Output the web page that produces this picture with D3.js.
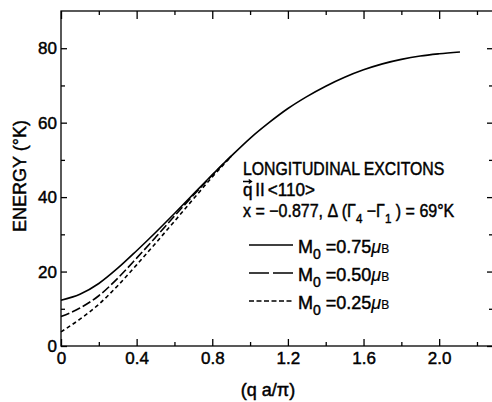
<!DOCTYPE html>
<html>
<head>
<meta charset="utf-8">
<script src="https://cdn.jsdelivr.net/npm/d3@7"></script>
<style>
  body { margin: 0; background: #fff; }
  svg text { font-family: "Liberation Sans", Arial, sans-serif; fill: #000; stroke: #000; stroke-width: 0.45px; }
</style>
</head>
<body>
<div id="container"></div>
<script>
// wave vector (q a / pi) and excitation energy (deg K)
const qSolid = [0, 0.1, 0.2, 0.3, 0.4, 0.5, 0.6, 0.7, 0.8, 0.9, 1.0, 1.1, 1.2, 1.3, 1.4, 1.5, 1.6, 1.7, 1.8, 1.9, 2.0, 2.11];
const eSolid = [12.3, 13.9, 16.8, 20.9, 25.6, 30.5, 35.6, 40.8, 46.0, 51.0, 55.8, 60.0, 63.8, 67.0, 69.8, 72.2, 74.2, 75.8, 77.0, 77.9, 78.5, 79.0];
const qDash = [0, 0.1, 0.2, 0.3, 0.4, 0.5, 0.6, 0.7, 0.8, 0.9];
const eDash = [7.9, 10.2, 13.5, 18.2, 23.6, 29.2, 34.9, 40.5, 45.9, 51.0];
const qShort = [0, 0.1, 0.2, 0.3, 0.4, 0.5, 0.6, 0.7, 0.8, 0.9];
const eShort = [3.8, 7.2, 11.2, 16.2, 21.8, 27.6, 33.5, 39.5, 45.4, 50.9];

const xMajor = [0, 0.4, 0.8, 1.2, 1.6, 2.0];
const xMinor = [0.2, 0.6, 1.0, 1.4, 1.8, 2.2];
const yMajor = [0, 20, 40, 60, 80];
const yMinor = [10, 30, 50, 70];

const legendLabels = ["0.75", "0.50", "0.25"];

const width = 492, height = 402;
const m = { left: 61, top: 11, bottom: 346, right: 494 };

const svg = d3.select("#container")
  .append("svg")
  .attr("width", width)
  .attr("height", height);

const x = d3.scaleLinear().domain([0, 2.29]).range([m.left, m.right]);
const y = d3.scaleLinear().domain([0, 90]).range([m.bottom, m.top]);

// frame
svg.append("rect")
  .attr("x", m.left).attr("y", m.top)
  .attr("width", m.right - m.left).attr("height", m.bottom - m.top)
  .attr("fill", "none").attr("stroke", "#000").attr("stroke-width", 1.3);

function styleAxis(g) {
  g.select(".domain").remove();
  g.selectAll("line").attr("stroke", "#000").attr("stroke-width", 1.3);
  g.selectAll("text").style("font-size", "17px");
}

const fmtX = d => d === 0 ? "0" : d.toFixed(1);

// bottom axis, ticks pointing in
svg.append("g").attr("transform", `translate(0,${m.bottom})`)
  .call(d3.axisBottom(x).tickValues(xMajor).tickSize(-7).tickPadding(6).tickFormat(fmtX))
  .call(styleAxis);
svg.append("g").attr("transform", `translate(0,${m.bottom})`)
  .call(d3.axisBottom(x).tickValues(xMinor).tickSize(-4).tickFormat(""))
  .call(styleAxis);
// top axis
svg.append("g").attr("transform", `translate(0,${m.top})`)
  .call(d3.axisTop(x).tickValues(xMajor).tickSize(-8).tickFormat(""))
  .call(styleAxis);
svg.append("g").attr("transform", `translate(0,${m.top})`)
  .call(d3.axisTop(x).tickValues(xMinor).tickSize(-4).tickFormat(""))
  .call(styleAxis);
// left axis
svg.append("g").attr("transform", `translate(${m.left},0)`)
  .call(d3.axisLeft(y).tickValues(yMajor).tickSize(-6).tickPadding(4))
  .call(styleAxis);
svg.append("g").attr("transform", `translate(${m.left},0)`)
  .call(d3.axisLeft(y).tickValues(yMinor).tickSize(-4).tickFormat(""))
  .call(styleAxis);
// right axis
svg.append("g").attr("transform", `translate(${m.right},0)`)
  .call(d3.axisRight(y).tickValues(yMajor).tickSize(-7).tickFormat(""))
  .call(styleAxis);
svg.append("g").attr("transform", `translate(${m.right},0)`)
  .call(d3.axisRight(y).tickValues(yMinor).tickSize(-5).tickFormat(""))
  .call(styleAxis);

// axis titles
svg.append("text")
  .attr("x", 268).attr("y", 396)
  .attr("text-anchor", "middle")
  .style("font-size", "18px")
  .text("(q a/\u03C0)");

svg.append("text")
  .attr("transform", "translate(26,176) rotate(-90)")
  .attr("text-anchor", "middle")
  .style("font-size", "18px")
  .text("ENERGY (\u00B0K)");

// curves
const line = d3.line()
  .curve(d3.curveMonotoneX)
  .x(d => x(d.q))
  .y(d => y(d.e));

const series = [
  { q: qSolid, e: eSolid, dash: null, legendDash: null },
  { q: qDash, e: eDash, dash: "9,3", legendDash: "20,4" },
  { q: qShort, e: eShort, dash: "4,3", legendDash: "5,2.5" }
];

series.forEach(s => {
  const pts = s.q.map((q, i) => ({ q, e: s.e[i] }));
  svg.append("path")
    .datum(pts)
    .attr("fill", "none")
    .attr("stroke", "#000")
    .attr("stroke-width", 1.6)
    .attr("stroke-dasharray", s.dash)
    .attr("d", line);
});

// annotation (condensed lettering)
const ann = svg.append("g").style("font-size", "18px");
ann.append("g").attr("transform", "translate(243,175) scale(0.88,1)")
  .append("text").text("LONGITUDINAL EXCITONS");

const g2 = ann.append("g").attr("transform", "translate(243,196) scale(0.95,1)");
const t2 = g2.append("text");
t2.append("tspan").text("q");
t2.append("tspan").attr("dx", 3).text("II");
t2.append("tspan").attr("dx", 3).text("<110>");
g2.append("path")
  .attr("d", "M0,-14.5 H9 M6,-16.5 L9,-14.5 L6,-12.5")
  .attr("fill", "none").attr("stroke", "#000").attr("stroke-width", 1.3);

const t3 = ann.append("g").attr("transform", "translate(243,217) scale(0.89,1)").append("text");
t3.append("tspan").text("x = \u22120.877, \u0394 (\u0393");
t3.append("tspan").attr("dy", 6).style("font-size", "13px").text("4");
t3.append("tspan").attr("dy", -6).text(" \u2212\u0393");
t3.append("tspan").attr("dy", 6).style("font-size", "13px").text("1");
t3.append("tspan").attr("dy", -6).text(" ) = 69\u00B0K");

// legend
series.forEach((s, i) => {
  const yy = 245 + i * 28;
  ann.append("line")
    .attr("x1", 249).attr("x2", 293)
    .attr("y1", yy).attr("y2", yy)
    .attr("stroke", "#000").attr("stroke-width", 1.4)
    .attr("stroke-dasharray", s.legendDash);
  const t = ann.append("text").attr("x", 298).attr("y", yy + 8);
  t.append("tspan").text("M");
  t.append("tspan").attr("dy", 6).style("font-size", "14px").text("0");
  t.append("tspan").attr("dy", -6).text(" =" + legendLabels[i]);
  t.append("tspan").style("font-style", "italic").style("stroke-width", "0.2px").text("\u03BC");
  t.append("tspan").style("font-size", "12px").style("stroke-width", "0.2px").text("B");
});
</script>
</body>
</html>
